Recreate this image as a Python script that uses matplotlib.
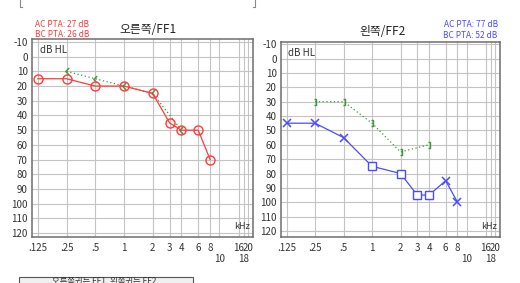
"""
    Audiogram, right ear (FF1) and left ear (FF2)
"""
import numpy as np
import matplotlib.pyplot as plt
from matplotlib.path import Path
from matplotlib.patches import Rectangle

plt.rcParams['font.family'] = ['Noto Sans CJK KR', 'DejaVu Sans']
plt.rcParams['axes.unicode_minus'] = False

# data
freq_ticks = [0.125, 0.25, 0.5, 1, 2, 3, 4, 6, 8, 16, 20]
freq_labels = [".125", ".25", ".5", "1", "2", "3", "4", "6", "8", "16", "20"]
freq_ticks_low = [10, 18]
freq_labels_low = ["10", "18"]
db_ticks = list(range(-10, 121, 10))

right_ac_f = [0.125, 0.25, 0.5, 1, 2, 3, 4, 6, 8]
right_ac_db = [15, 15, 20, 20, 25, 45, 50, 50, 70]
right_bc_f = [0.25, 0.5, 1, 2, 4]
right_bc_db = [10, 15, 20, 25, 50]

left_ac_f = [0.125, 0.25, 0.5, 1, 2, 3, 4, 6, 8]
left_ac_db = [45, 45, 55, 75, 80, 95, 95, 85, 100]
left_ac_masked = [False, False, False, True, True, True, True, False, False]
left_bc_f = [0.25, 0.5, 1, 2, 4]
left_bc_db = [30, 30, 45, 65, 60]

RED = "#ff3b3b"
BLUE = "#4b4bff"
GREEN = "#3c9a3c"

# bone conduction symbols: "<" for right, "]" for left
lt_marker = Path([(0.5, 1), (-0.5, 0), (0.5, -1)],
                 [Path.MOVETO, Path.LINETO, Path.LINETO])
rb_marker = Path([(-0.4, 1), (0.4, 1), (0.4, -1), (-0.4, -1)],
                 [Path.MOVETO, Path.LINETO, Path.LINETO, Path.LINETO])


def setup_axes(ax, ylim):
    ax.set_xscale('log', base=2)
    ax.set_xlim(0.1085, 22.5)
    ax.set_ylim(*ylim)
    ax.set_xticks(freq_ticks, labels=freq_labels)
    ax.set_xticks(freq_ticks_low, labels=freq_labels_low, minor=True)
    ax.set_yticks(db_ticks)
    ax.tick_params(which='both', length=0, labelsize=7, colors="#333333")
    ax.tick_params(axis='x', which='major', pad=4)
    ax.tick_params(axis='x', which='minor', pad=12)
    ax.tick_params(axis='y', pad=3)
    ax.grid(True, which='both', color="#c4c4c4", lw=0.8)
    ax.set_axisbelow(True)
    for s in ax.spines.values():
        s.set_color("#6e6e6e")
        s.set_linewidth(1.1)
    ax.text(0.035, 0.945, "dB HL", transform=ax.transAxes, fontsize=7,
            color="#333333", va='center', ha='left')
    ax.text(0.985, 0.055, "kHz", transform=ax.transAxes, fontsize=6.5,
            color="#333333", va='center', ha='right')


fig = plt.figure(figsize=(5.2, 2.83), dpi=100)
ax1 = fig.add_axes([0.0615, 0.1625, 0.425, 0.6995])
ax2 = fig.add_axes([0.540, 0.1625, 0.4215, 0.6895])
setup_axes(ax1, (122.7, -12))
setup_axes(ax2, (124.2, -11.6))

# right ear
ax1.plot(right_bc_f, right_bc_db, color=GREEN, lw=0.9, ls=(0, (1, 2)),
         marker=lt_marker, ms=5, mew=1.0, mfc='none', mec=GREEN, zorder=3)
ax1.plot(right_ac_f, right_ac_db, color=RED, lw=0.9, marker='o', ms=6.5,
         mfc='none', mec=RED, mew=1.0, zorder=4)

# left ear
ax2.plot(left_bc_f, left_bc_db, color=GREEN, lw=0.9, ls=(0, (1, 2)),
         marker=rb_marker, ms=4.5, mew=1.0, mfc='none', mec=GREEN, zorder=3)
ax2.plot(left_ac_f, left_ac_db, color=BLUE, lw=0.9, zorder=3)
x_f = [f for f, m in zip(left_ac_f, left_ac_masked) if not m]
x_db = [d for d, m in zip(left_ac_db, left_ac_masked) if not m]
sq_f = [f for f, m in zip(left_ac_f, left_ac_masked) if m]
sq_db = [d for d, m in zip(left_ac_db, left_ac_masked) if m]
ax2.plot(x_f, x_db, ls='none', marker='x', ms=6, mew=1.1, color=BLUE, zorder=4)
ax2.plot(sq_f, sq_db, ls='none', marker='s', ms=5.5, mew=1.0, mfc='white',
         mec=BLUE, zorder=4)

# titles and PTA
fig.text(0.285, 0.897, "오른쪽/FF1", ha='center', va='center', fontsize=8.5,
         color="#222222")
fig.text(0.068, 0.912, "AC PTA: 27 dB", ha='left', va='center', fontsize=6,
         color=RED)
fig.text(0.068, 0.877, "BC PTA: 26 dB", ha='left', va='center', fontsize=6,
         color=RED)
fig.text(0.735, 0.890, "왼쪽/FF2", ha='center', va='center', fontsize=8.5,
         color="#222222")
fig.text(0.957, 0.912, "AC PTA: 77 dB", ha='right', va='center', fontsize=6,
         color=BLUE)
fig.text(0.957, 0.874, "BC PTA: 52 dB", ha='right', va='center', fontsize=6,
         color=BLUE)

# frame remnants at top and the clipped note box at the bottom
fig.add_artist(plt.Line2D([0.038, 0.038, 0.042], [1.0, 0.977, 0.977],
                          color="#888888", lw=0.8))
fig.add_artist(plt.Line2D([0.490, 0.490, 0.486], [1.0, 0.977, 0.977],
                          color="#888888", lw=0.8))
fig.add_artist(Rectangle((0.036, -0.02), 0.336, 0.04, transform=fig.transFigure,
                         fc="#f0f0f0", ec="#555555", lw=0.8))
fig.text(0.20, -0.008, "오른쪽귀는 FF1, 왼쪽귀는 FF2", ha='center', va='bottom',
         fontsize=6, color="#333333")

fig.savefig("out.png", dpi=100)
